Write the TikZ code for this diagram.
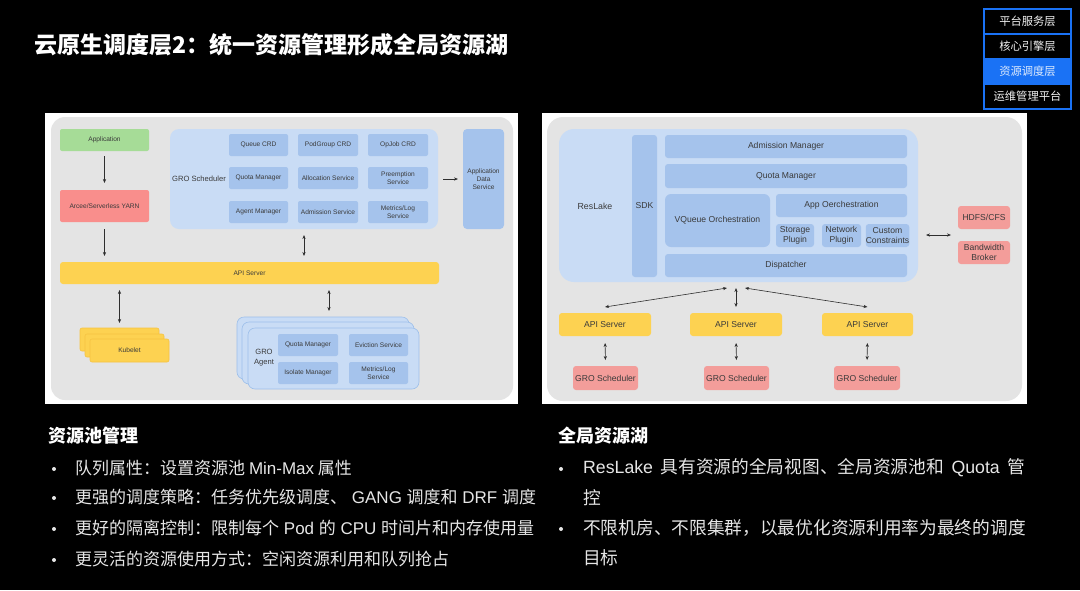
\documentclass[tikz,border=0pt]{standalone}
\usepackage{fontspec}
\setmainfont{Noto Sans CJK SC}
\newfontfamily\diag{Liberation Sans}
\newcommand\lat[1]{{\diag #1}}
\usetikzlibrary{arrows.meta}
\definecolor{bg}{HTML}{000000}
\definecolor{panelgray}{HTML}{E4E4E4}
\definecolor{lblue}{HTML}{C9DCF5}
\definecolor{mblue}{HTML}{A5C3EC}
\definecolor{agentline}{HTML}{9DBFEA}
\definecolor{appgreen}{HTML}{A6DC97}
\definecolor{arred}{HTML}{F98E8C}
\definecolor{ylw}{HTML}{FDD251}
\definecolor{ylwline}{HTML}{F6C342}
\definecolor{pnk}{HTML}{F39D9A}
\definecolor{txt}{HTML}{3A3A3A}
\definecolor{arr}{HTML}{2E2E2E}
\definecolor{legblue}{HTML}{1A72F5}
\definecolor{legtxt}{HTML}{F2F2F2}
\definecolor{bullettxt}{HTML}{E6E6E6}
\newcommand\mybox[7]{\node[#6, minimum width={(#4)-(#2)}, minimum height={(#5)-(#3)}] (#1) at ({((#2)+(#4))/2},{((#3)+(#5))/2}) {#7};}
\tikzset{
  lbox/.style={rounded corners=2pt, inner sep=0pt, outer sep=0pt, align=center, text=txt, font=\diag\fontsize{6.6}{7.9}\selectfont},
  rbox/.style={rounded corners=3pt, inner sep=0pt, outer sep=0pt, align=center, text=txt, font=\diag\fontsize{8.6}{10.2}\selectfont},
  dbl/.style={{Stealth[length=4pt,width=3.2pt]}-{Stealth[length=4pt,width=3.2pt]}, draw=arr, line width=0.6pt},
  sgl/.style={-{Stealth[length=4pt,width=3.2pt]}, draw=arr, line width=0.6pt},
  legrow/.style={draw=legblue, line width=1.4pt, inner sep=0pt, outer sep=0pt, text=legtxt, font=\fontsize{11.3}{13}\selectfont},
  bul/.style={anchor=west, inner sep=0pt, text=bullettxt},
  dot/.style={circle, fill=bullettxt, inner sep=0pt, minimum size=4pt},
}
\begin{document}
\begin{tikzpicture}[x=1pt,y=-1pt]
\fill[bg] (0,0) rectangle (1080,590);
\useasboundingbox (0,0) rectangle (1080,590);

% title
\node[anchor=west, inner sep=0pt, text=white, font=\bfseries\fontsize{23}{26}\selectfont] (title) at (34,45) {云原生调度层2：统一资源管理形成全局资源湖};

% legend
\mybox{leg1}{984}{9}{1071}{34}{legrow, fill=black}{平台服务层}
\mybox{leg2}{984}{34}{1071}{59}{legrow, fill=black}{核心引擎层}
\mybox{leg3}{984}{59}{1071}{84}{legrow, fill=legblue, text=white!85!legblue}{资源调度层}
\mybox{leg4}{984}{84}{1071}{109}{legrow, fill=black}{运维管理平台}

% ===== left panel =====
\fill[white] (45,113) rectangle (518,404);
\fill[panelgray, rounded corners=14pt] (51,117) rectangle (513,400);

\mybox{app}{60}{129}{149}{151}{lbox, fill=appgreen}{Application}
\mybox{arcee}{60}{190}{149}{222}{lbox, fill=arred}{Arcee/Serverless YARN}
\mybox{grosch}{170}{129}{438}{229}{lbox, fill=lblue, rounded corners=9pt}{}
\node[text=txt, font=\diag\fontsize{7.6}{9}\selectfont, inner sep=0pt] (groschlbl) at (199,179) {GRO Scheduler};
\mybox{qcrd}{229}{134}{288}{156}{lbox, fill=mblue}{Queue CRD}
\mybox{pgcrd}{298}{134}{358}{156}{lbox, fill=mblue}{PodGroup CRD}
\mybox{ojcrd}{368}{134}{428}{156}{lbox, fill=mblue}{OpJob CRD}
\mybox{qmgr}{229}{167}{288}{189}{lbox, fill=mblue}{Quota Manager}
\mybox{alloc}{298}{167}{358}{189}{lbox, fill=mblue}{Allocation Service}
\mybox{preempt}{368}{167}{428}{189}{lbox, fill=mblue}{Preemption\\Service}
\mybox{agmgr}{229}{201}{288}{223}{lbox, fill=mblue}{Agent Manager}
\mybox{admsvc}{298}{201}{358}{223}{lbox, fill=mblue}{Admission Service}
\mybox{metsvc}{368}{201}{428}{223}{lbox, fill=mblue}{Metrics/Log\\Service}
\mybox{ads}{463}{129}{504}{229}{lbox, fill=mblue, rounded corners=4pt}{Application\\Data\\Service}
\mybox{api}{60}{262}{439}{284}{lbox, fill=ylw, rounded corners=3pt}{API Server}

% kubelet stack
\mybox{kub1}{80}{328}{159}{351}{lbox, fill=ylw, draw=ylwline, line width=0.6pt}{}
\mybox{kub2}{85}{334}{164}{357}{lbox, fill=ylw, draw=ylwline, line width=0.6pt}{}
\mybox{kub3}{90}{339}{169}{362}{lbox, fill=ylw, draw=ylwline, line width=0.6pt}{Kubelet}

% agent stack
\mybox{ag1}{237}{317}{409}{379}{lbox, fill=lblue, draw=agentline, line width=0.6pt, rounded corners=7pt}{}
\mybox{ag2}{242}{322}{414}{384}{lbox, fill=lblue, draw=agentline, line width=0.6pt, rounded corners=7pt}{}
\mybox{ag3}{248}{328}{419}{389}{lbox, fill=lblue, draw=agentline, line width=0.6pt, rounded corners=7pt}{}
\node[text=txt, font=\diag\fontsize{7.6}{10}\selectfont, align=center, inner sep=0pt] (aglbl) at (264,358) {GRO\\Agent};
\mybox{aqm}{278}{334}{338}{356}{lbox, fill=mblue}{Quota Manager}
\mybox{aev}{349}{334}{408}{356}{lbox, fill=mblue}{Eviction Service}
\mybox{aim}{278}{362}{338}{384}{lbox, fill=mblue}{Isolate Manager}
\mybox{amet}{349}{362}{408}{384}{lbox, fill=mblue}{Metrics/Log\\Service}

% left arrows
\draw[sgl, shorten <=5pt, shorten >=7pt] (app.south) -- (arcee.north);
\draw[sgl, shorten <=7pt, shorten >=6pt] (arcee.south) -- (arcee.south |- api.north);
\draw[sgl, shorten <=5pt, shorten >=5pt] (grosch.east |- groschlbl) -- (ads.west |- groschlbl);
\draw[dbl, shorten <=6pt, shorten >=6pt] (304,229) coordinate (gsb) -- (gsb |- api.north);
\draw[dbl, shorten <=6pt, shorten >=5pt] (kub1.north |- api.south) -- (kub1.north);
\draw[dbl, shorten <=6pt, shorten >=6pt] (329,284) coordinate (apib) -- (apib |- ag1.north);

% ===== right panel =====
\fill[white] (542,113) rectangle (1027,404);
\fill[panelgray, rounded corners=16pt] (547,117) rectangle (1022,401);

\mybox{reslake}{559}{129}{918}{282}{rbox, fill=lblue, rounded corners=15pt}{}
\node[text=txt, font=\diag\fontsize{8.8}{10}\selectfont, inner sep=0pt] (reslbl) at (595,206) {ResLake};
\mybox{sdk}{632}{135}{657}{277}{rbox, fill=mblue}{SDK}
\mybox{adm}{665}{135}{907}{158}{rbox, fill=mblue}{Admission Manager}
\mybox{quota}{665}{164}{907}{188}{rbox, fill=mblue}{Quota Manager}
\mybox{vq}{665}{194}{770}{247}{rbox, fill=mblue, rounded corners=6pt}{VQueue Orchestration}
\mybox{appo}{776}{194}{907}{217}{rbox, fill=mblue}{App Oerchestration}
\mybox{stor}{776}{224}{814}{247}{rbox, fill=mblue}{Storage\\Plugin}
\mybox{net}{822}{224}{861}{247}{rbox, fill=mblue}{Network\\Plugin}
\mybox{cust}{868}{224}{907}{247}{rbox, fill=mblue}{Custom\\Constraints}
\mybox{disp}{665}{254}{907}{277}{rbox, fill=mblue}{Dispatcher}
\mybox{hdfs}{958}{206}{1010}{229}{rbox, fill=pnk}{HDFS/CFS}
\mybox{bw}{958}{241}{1010}{264}{rbox, fill=pnk}{Bandwidth\\Broker}

\mybox{api1}{559}{313}{651}{336}{rbox, fill=ylw}{API Server}
\mybox{api2}{690}{313}{782}{336}{rbox, fill=ylw}{API Server}
\mybox{api3}{822}{313}{913}{336}{rbox, fill=ylw}{API Server}
\mybox{gs1}{573}{366}{638}{390}{rbox, fill=pnk}{GRO Scheduler}
\mybox{gs2}{704}{366}{769}{390}{rbox, fill=pnk}{GRO Scheduler}
\mybox{gs3}{834}{366}{900}{390}{rbox, fill=pnk}{GRO Scheduler}

% right arrows
\coordinate (hubL) at (727,288);
\coordinate (hubR) at (745,288);
\draw[dbl, shorten <=8pt, shorten >=7pt] (reslake.east |- 0,235) -- (hdfs.west |- 0,235);
\draw[dbl] (hubL) -- ([yshift=6pt]api1.north);
\draw[dbl] (hubR) -- ([yshift=6pt]api3.north);
\draw[dbl, shorten <=6pt, shorten >=6pt] (api2.north |- reslake.south) -- (api2.north);
\draw[dbl, shorten <=7pt, shorten >=6pt] (api1.south) -- (gs1.north);
\draw[dbl, shorten <=7pt, shorten >=6pt] (api2.south) -- (gs2.north);
\draw[dbl, shorten <=7pt, shorten >=6pt] (api3.south) -- (gs3.north);

% ===== bottom text =====
\node[bul, text=white, font=\bfseries\fontsize{18}{20}\selectfont] (h1) at (48,436) {资源池管理};
\begin{scope}[font=\fontsize{17}{20}\selectfont]
\node[dot] (b1) at (54,469) {};
\node[bul] (t1) at (75,468) {队列属性：设置资源池 \lat{Min-Max} 属性};
\node[dot] (b2) at (54,498) {};
\node[bul] (t2) at (75,497) {更强的调度策略：任务优先级调度、\lat{ GANG }调度和\lat{ DRF }调度};
\node[dot] (b3) at (54,529) {};
\node[bul] (t3) at (75,528) {更好的隔离控制：限制每个\lat{ Pod }的\lat{ CPU }时间片和内存使用量};
\node[dot] (b4) at (54,560) {};
\node[bul] (t4) at (75,559) {更灵活的资源使用方式：空闲资源利用和队列抢占};
\end{scope}

\node[bul, text=white, font=\bfseries\fontsize{18}{20}\selectfont] (h2) at (558,436) {全局资源湖};
\begin{scope}[font=\fontsize{17.7}{21}\selectfont]
\node[dot] (r1) at (561,469) {};
\node[bul] (s1) at (583,468) {\makebox[442pt][s]{\lat{ResLake} 具有资源的全局视图、全局资源池和 \lat{Quota} 管}};
\node[bul] (s1b) at (583,498) {控};
\node[dot] (r2) at (561,529) {};
\node[bul] (s2) at (583,528) {不限机房、不限集群，以最优化资源利用率为最终的调度};
\node[bul] (s2b) at (583,558) {目标};
\end{scope}
\end{tikzpicture}
\end{document}
